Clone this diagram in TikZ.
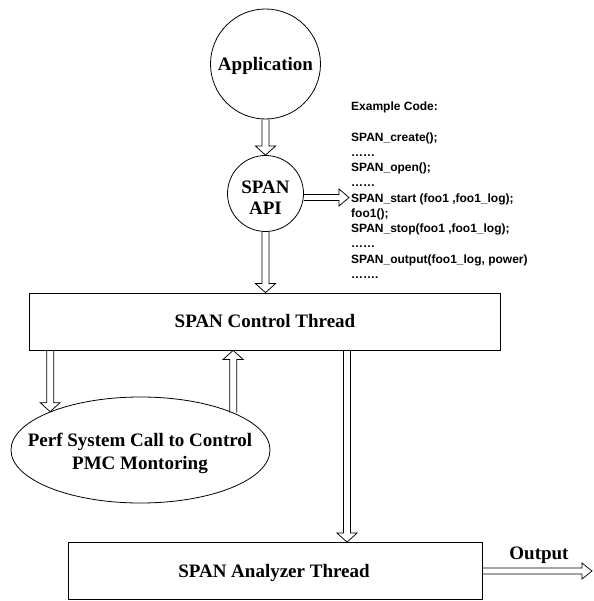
\documentclass[tikz,border=0pt]{standalone}
\usepackage{fontspec}
\setmainfont{Liberation Serif}
\newfontfamily\codefont{Liberation Sans}
\usetikzlibrary{shapes.geometric,calc}

% hollow block arrow along a vertical line: start, end, shaft half width, head half width, head length
\newcommand\vblock[5]{%
  \draw[blockline] let \p1=#1, \p2=#2, \n1={(\y2-\y1)/abs(\y2-\y1)} in
    ({\x1-#3},\y1) -- ({\x1-#3},{\y2-(\n1)*#5}) -- ({\x1-#4},{\y2-(\n1)*#5}) -- (\x1,\y2)
    -- ({\x1+#4},{\y2-(\n1)*#5}) -- ({\x1+#3},{\y2-(\n1)*#5}) -- ({\x1+#3},\y1);}
% the same along a horizontal line
\newcommand\hblock[5]{%
  \draw[blockline] let \p1=#1, \p2=#2, \n1={(\x2-\x1)/abs(\x2-\x1)} in
    (\x1,{\y1-#3}) -- ({\x2-(\n1)*#5},{\y1-#3}) -- ({\x2-(\n1)*#5},{\y1-#4}) -- (\x2,\y1)
    -- ({\x2-(\n1)*#5},{\y1+#4}) -- ({\x2-(\n1)*#5},{\y1+#3}) -- (\x1,{\y1+#3});}

\tikzset{
  lbl/.style={font=\bfseries\fontsize{19}{21}\selectfont, text=black, align=center, inner sep=0pt},
  shapeline/.style={draw=black, line width=0.8pt, inner sep=0pt},
  blockline/.style={draw=black, line width=0.75pt, line join=miter},
  codetext/.style={font=\codefont\bfseries\fontsize{12}{15.26}\selectfont, align=left, inner sep=0pt},
}

\begin{document}
\begin{tikzpicture}[x=1pt,y=-1pt]
\useasboundingbox (0,0) rectangle (593,601);

% outlines
\node[shapeline, circle, minimum size=110pt] (app) at (265.5,64) {};
\node[shapeline, circle, minimum size=76pt] (api) at (265.5,193.5) {};
\node[shapeline, rectangle, minimum width=471pt, minimum height=57pt] (ctrl) at (265,321.5) {};
\node[shapeline, ellipse, minimum width=259pt, minimum height=106pt] (perf) at (140.5,450) {};
\node[shapeline, rectangle, minimum width=414pt, minimum height=57pt] (ana) at (275,571) {};

% labels
\node[lbl, anchor=base] (apptext) at (265.5,70.5) {Application};
\node[lbl, anchor=north] (apitext) at (265.5,180.3) {SPAN\\API};
\node[lbl, anchor=base] (ctrltext) at (265,327.5) {SPAN Control Thread};
\node[lbl, anchor=north, font=\bfseries\fontsize{19}{23}\selectfont] (perftext) at (140,433) {Perf System Call to Control\\PMC Montoring};
\node[lbl, anchor=base] (anatext) at (274,577) {SPAN Analyzer Thread};
\node[lbl, anchor=base] (outtext) at (539,559) {Output};

% example listing
\node[codetext, anchor=north west] (code) at (351,101.6) {Example Code:\\[15.26pt]
SPAN\_create();\\
……\\
SPAN\_open();\\
……\\
SPAN\_start (foo1 ,foo1\_log);\\
foo1();\\
SPAN\_stop(foo1 ,foo1\_log);\\
……\\
SPAN\_output(foo1\_log, power)\\
…….};

\coordinate (codein) at (349,197.5);
\coordinate (split) at ([xshift=82pt]ctrl.south);
\coordinate (outend) at (592,571.5);

% connectors
\vblock{(app.south)}{(api.north)}{3.5pt}{10pt}{9pt}
\hblock{(api.east |- codein)}{(codein)}{3pt}{8.5pt}{10pt}
\vblock{(api.south)}{(api.south |- ctrl.north)}{3.5pt}{10pt}{9pt}
\vblock{(ctrl.south -| perf.157.7)}{(perf.157.7)}{3.5pt}{10pt}{9pt}
\vblock{(perf.22.7)}{(ctrl.south -| perf.22.7)}{3.5pt}{10pt}{9pt}
\vblock{(split)}{(split |- ana.north)}{3.5pt}{10pt}{9pt}
\hblock{(ana.east)}{(outend)}{3pt}{8pt}{10pt}
\end{tikzpicture}
\end{document}
